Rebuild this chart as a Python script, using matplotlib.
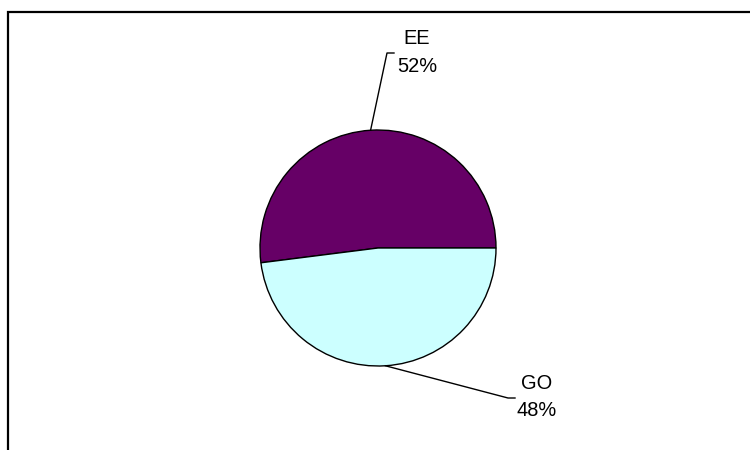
import matplotlib.pyplot as plt
import numpy as np

plt.rcParams['font.family'] = ['Liberation Sans', 'DejaVu Sans']

# data
labels = ['EE', 'GO']
shares = [52, 48]
colors = ['#660066', '#CCFFFF']

fig = plt.figure(figsize=(7.5, 4.5), dpi=100)
ax = fig.add_axes([0, 0, 1, 1])
ax.set_xlim(0, 750)
ax.set_ylim(0, 450)
ax.set_aspect('equal')
ax.axis('off')

# chart frame (cut off at right and bottom)
ax.plot([8, 8, 760], [-10, 438, 438], color='black', lw=1.6, clip_on=False,
        solid_joinstyle='miter')

cx, cy, r = 378, 202, 118
wedges, _ = ax.pie(shares, colors=colors, startangle=0, counterclock=True,
                   center=(cx, cy), radius=r, frame=True,
                   wedgeprops=dict(edgecolor='black', linewidth=1.0))
ax.set_xlim(0, 750)
ax.set_ylim(0, 450)
ax.axis('off')

# leader lines and labels (bend point, tick end, text centre)
label_layout = [((387, 397), (394, 397), (417, 398)),
                ((508, 52), (515, 52), (537, 53))]

for w, lab, pct, (bend, tick, txt) in zip(wedges, labels, shares, label_layout):
    mid = np.deg2rad((w.theta1 + w.theta2) / 2)
    sx, sy = cx + r * np.cos(mid), cy + r * np.sin(mid)
    ax.plot([sx, bend[0], tick[0]], [sy, bend[1], tick[1]], color='black', lw=1.0)
    ax.text(txt[0], txt[1] + 13.5, lab, ha='center', va='center', fontsize=14.4)
    ax.text(txt[0], txt[1] - 14, f'{pct}%', ha='center', va='center', fontsize=14.4)

fig.savefig('out.png', dpi=100)
